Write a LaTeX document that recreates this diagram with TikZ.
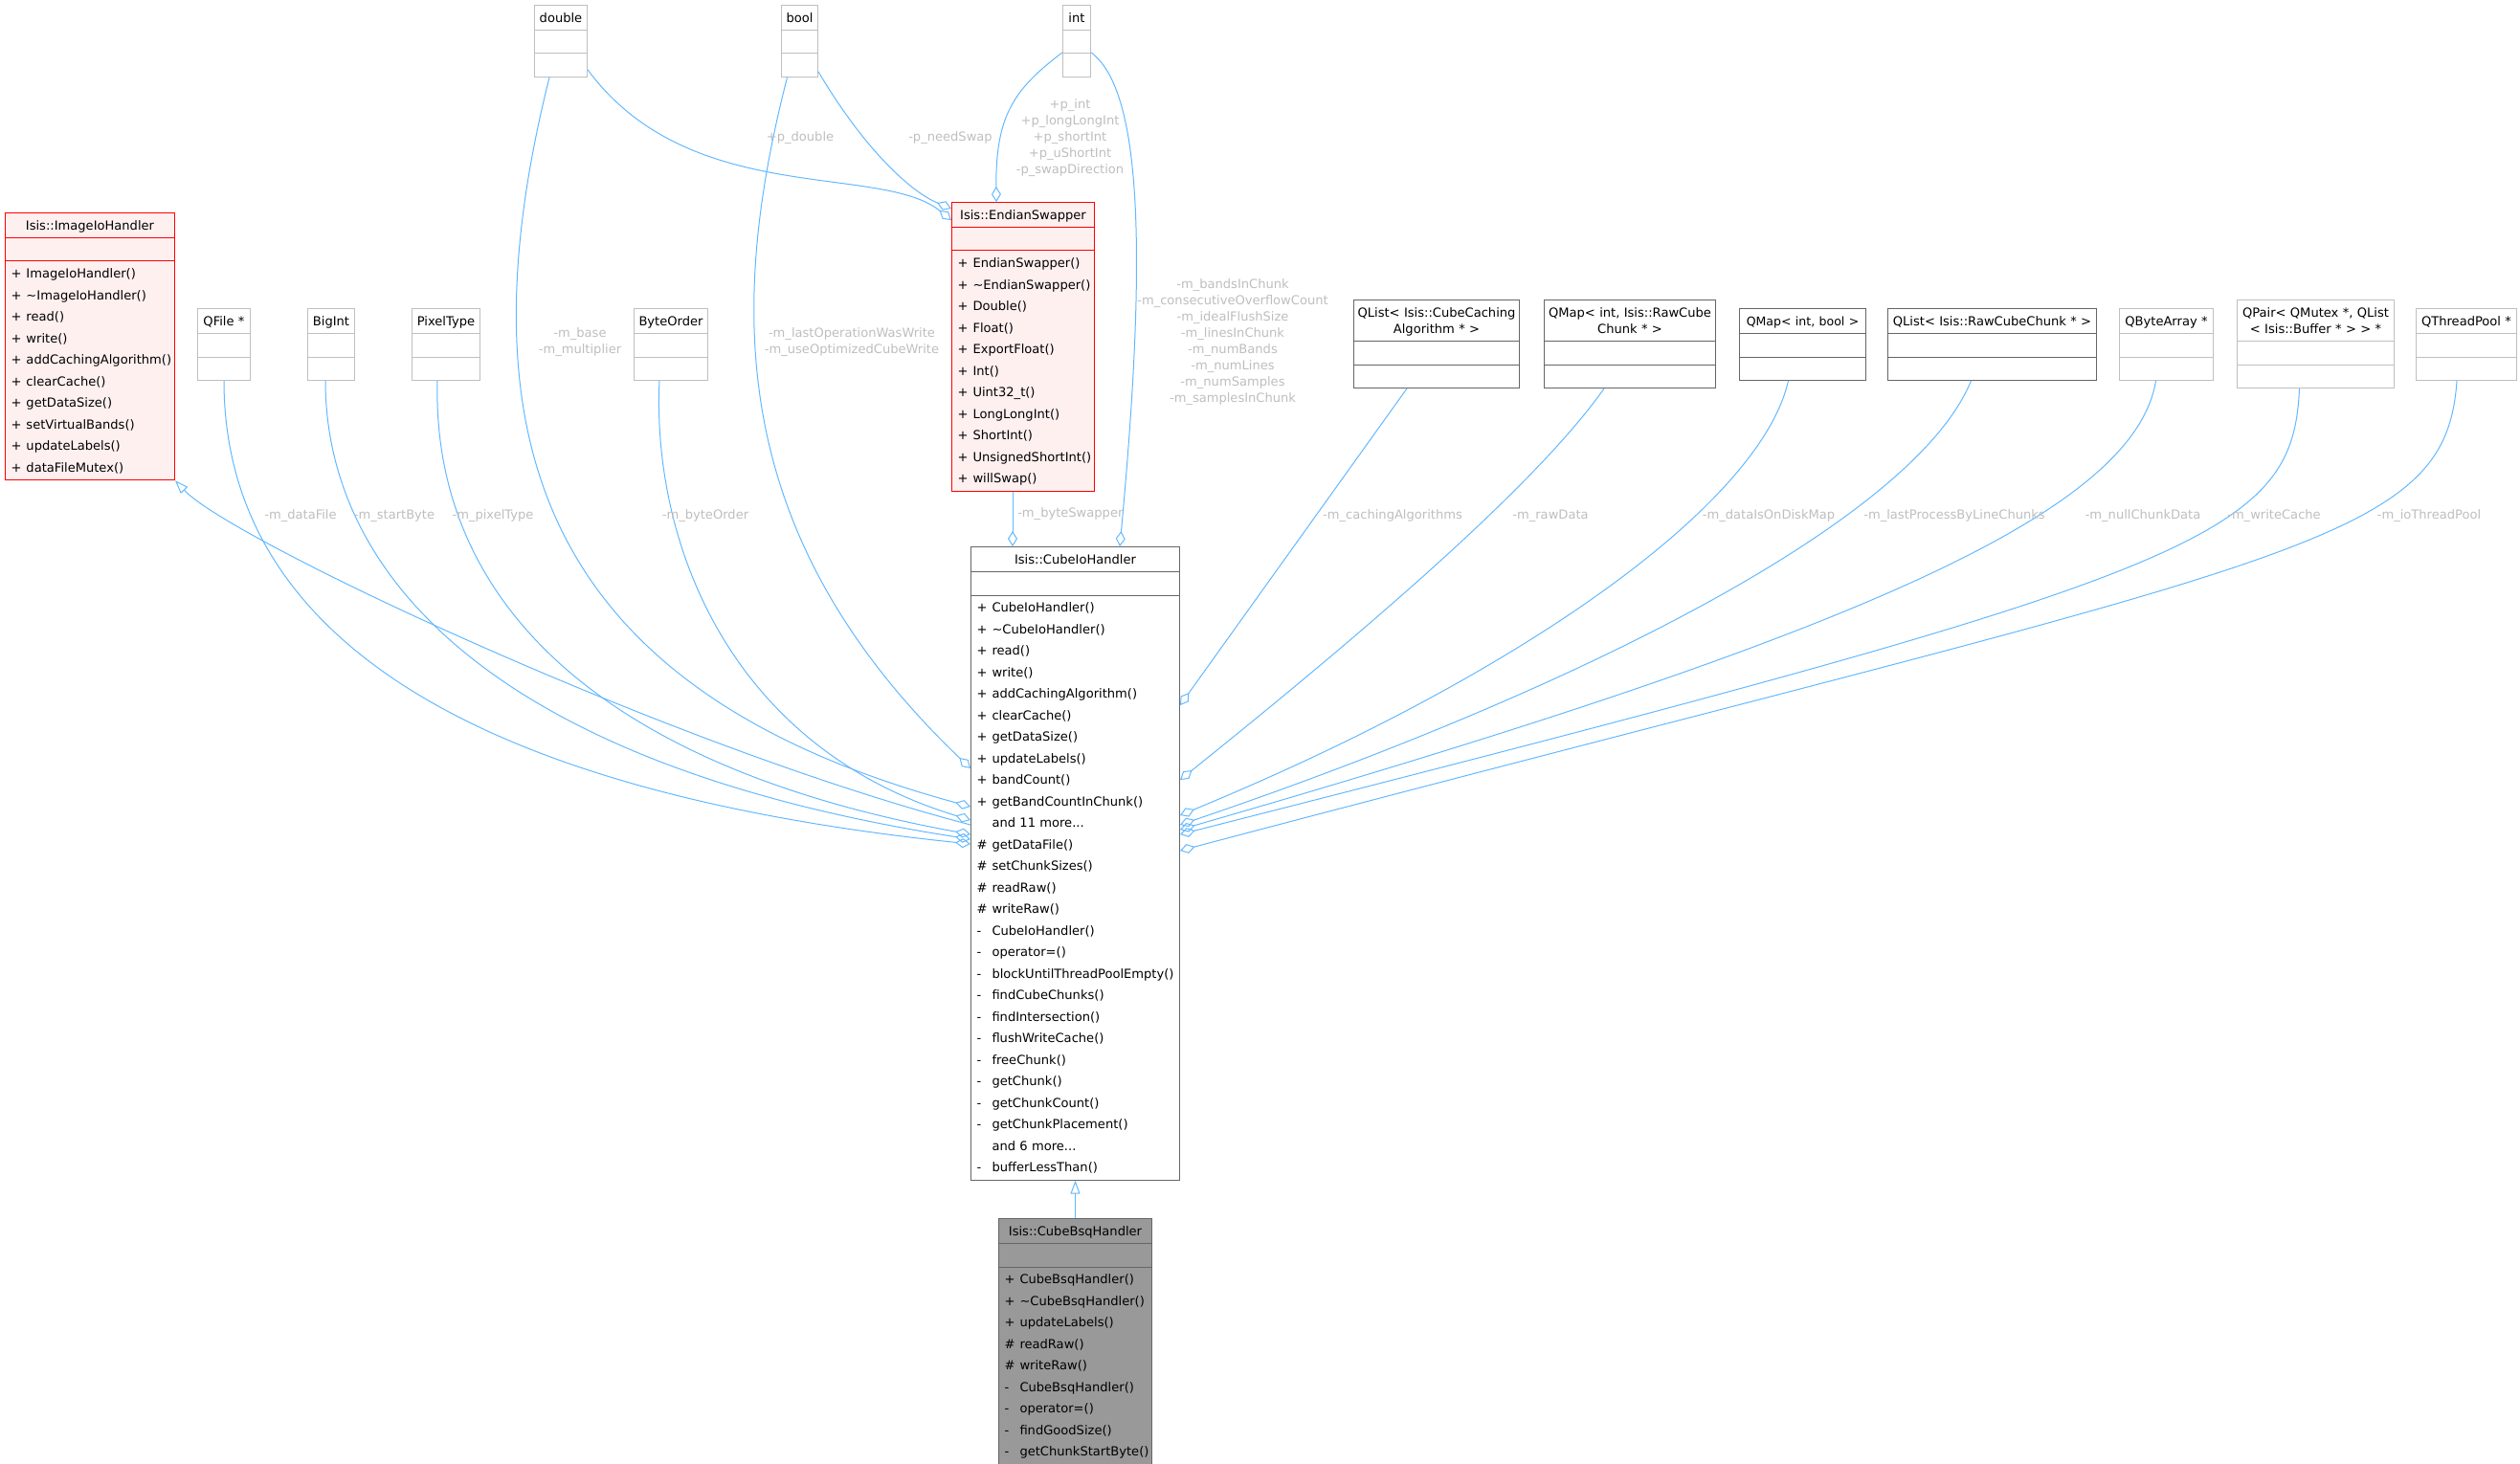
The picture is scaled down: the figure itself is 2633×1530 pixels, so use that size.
\documentclass[tikz,border=0pt]{standalone}
\usepackage{fontspec}
\setmainfont{DejaVu Sans}
\usetikzlibrary{positioning, arrows.meta, shapes.multipart, calc}
\definecolor{edgeblue}{HTML}{63B8FF}
\definecolor{lblgray}{HTML}{BEBEBE}
\definecolor{redline}{HTML}{FF0000}
\definecolor{redfill}{HTML}{FFF0F0}
\definecolor{extline}{HTML}{BFBFBF}
\definecolor{docline}{HTML}{666666}
\definecolor{selffill}{HTML}{999999}
\newcommand{\clsfont}{\fontsize{9.8}{16.875}\selectfont}
\newcommand{\lblfont}{\fontsize{9.8}{12.75}\selectfont}
\newcommand{\ctitle}[1]{\strut\makebox[\hsize]{#1}}
\newcommand{\pub}{\strut\makebox[12pt][l]{+}}
\newcommand{\prot}{\strut\makebox[12pt][l]{\#}}
\newcommand{\priv}{\strut\makebox[12pt][l]{-}}
\newcommand{\more}{\strut\makebox[12pt][l]{}}
\newcommand{\emptyrow}{\rule{0pt}{15.5pt}}
\tikzstyle{cls}=[rectangle split, rectangle split parts=3, draw, line width=0.75pt, inner xsep=4.5pt, inner ysep=1pt, font=\clsfont, align=left, anchor=north west]
\tikzstyle{redcls}=[cls, draw=redline, fill=redfill]
\tikzstyle{extcls}=[cls, draw=extline, fill=white]
\tikzstyle{doccls}=[cls, draw=docline, fill=white]
\tikzstyle{selfcls}=[cls, draw=docline, fill=selffill]
\tikzstyle{lbl}=[font=\lblfont, text=lblgray, align=center, inner sep=0pt]
\tikzstyle{agg}=[draw=edgeblue, line width=0.75pt, -{Diamond[open, length=12pt, width=7.5pt]}]
\tikzstyle{inh}=[draw=edgeblue, line width=0.75pt]

\begin{document}
\begin{tikzpicture}[x=0.75pt, y=-0.75pt, >=latex]
  \useasboundingbox (0,0) rectangle (2633,1530);

  % base class and helpers
  \node[redcls, text width=123.75pt] (ih) at (5,222) {\ctitle{Isis::ImageIoHandler}
    \nodepart{two}\emptyrow
    \nodepart{three}\pub ImageIoHandler()\\ \pub \textasciitilde ImageIoHandler()\\ \pub read()\\
    \pub write()\\ \pub addCachingAlgorithm()\\ \pub clearCache()\\ \pub getDataSize()\\
    \pub setVirtualBands()\\ \pub updateLabels()\\ \pub dataFileMutex()};
  \node[extcls, text width=32.25pt] (qfile) at (206,322) {\ctitle{QFile *}
    \nodepart{two}\emptyrow \nodepart{three}\emptyrow};
  \node[extcls, text width=27.75pt] (bigint) at (321,322) {\ctitle{BigInt}
    \nodepart{two}\emptyrow \nodepart{three}\emptyrow};
  \node[extcls, text width=44.25pt] (pixtype) at (430,322) {\ctitle{PixelType}
    \nodepart{two}\emptyrow \nodepart{three}\emptyrow};
  \node[extcls, text width=48.75pt] (byteord) at (662,322) {\ctitle{ByteOrder}
    \nodepart{two}\emptyrow \nodepart{three}\emptyrow};
  \node[extcls, text width=32.25pt] (dbl) at (558,5) {\ctitle{double}
    \nodepart{two}\emptyrow \nodepart{three}\emptyrow};
  \node[extcls, text width=19.5pt] (bool) at (816,5) {\ctitle{bool}
    \nodepart{two}\emptyrow \nodepart{three}\emptyrow};
  \node[extcls, text width=12.75pt] (int) at (1110,5) {\ctitle{int}
    \nodepart{two}\emptyrow \nodepart{three}\emptyrow};

  \node[redcls, text width=102.75pt] (es) at (994,211) {\ctitle{Isis::EndianSwapper}
    \nodepart{two}\emptyrow
    \nodepart{three}\pub EndianSwapper()\\ \pub \textasciitilde EndianSwapper()\\ \pub Double()\\
    \pub Float()\\ \pub ExportFloat()\\ \pub Int()\\ \pub Uint32\_t()\\ \pub LongLongInt()\\
    \pub ShortInt()\\ \pub UnsignedShortInt()\\ \pub willSwap()};

  \node[doccls, text width=154.5pt] (cih) at (1014,571) {\ctitle{Isis::CubeIoHandler}
    \nodepart{two}\emptyrow
    \nodepart{three}\pub CubeIoHandler()\\ \pub \textasciitilde CubeIoHandler()\\ \pub read()\\
    \pub write()\\ \pub addCachingAlgorithm()\\ \pub clearCache()\\ \pub getDataSize()\\
    \pub updateLabels()\\ \pub bandCount()\\ \pub getBandCountInChunk()\\ \more and 11 more...\\
    \prot getDataFile()\\ \prot setChunkSizes()\\ \prot readRaw()\\ \prot writeRaw()\\
    \priv CubeIoHandler()\\ \priv operator=()\\ \priv blockUntilThreadPoolEmpty()\\
    \priv findCubeChunks()\\ \priv findIntersection()\\ \priv flushWriteCache()\\
    \priv freeChunk()\\ \priv getChunk()\\ \priv getChunkCount()\\ \priv getChunkPlacement()\\
    \more and 6 more...\\ \priv bufferLessThan()};

  \node[selfcls, text width=111pt] (cbh) at (1043,1273) {\ctitle{Isis::CubeBsqHandler}
    \nodepart{two}\emptyrow
    \nodepart{three}\pub CubeBsqHandler()\\ \pub \textasciitilde CubeBsqHandler()\\ \pub updateLabels()\\
    \prot readRaw()\\ \prot writeRaw()\\ \priv CubeBsqHandler()\\ \priv operator=()\\
    \priv findGoodSize()\\ \priv getChunkStartByte()};

  % member types on the right
  \node[doccls, text width=120.75pt] (qlcc) at (1414,313) {\ctitle{QList< Isis::CubeCaching}\\[-4pt]\ctitle{Algorithm * >}
    \nodepart{two}\emptyrow \nodepart{three}\emptyrow};
  \node[doccls, text width=125.25pt] (qmrc) at (1613,313) {\ctitle{QMap< int, Isis::RawCube}\\[-4pt]\ctitle{Chunk * >}
    \nodepart{two}\emptyrow \nodepart{three}\emptyrow};
  \node[doccls, text width=90pt] (qmib) at (1817,322) {\ctitle{\fontsize{9.4}{16.875}\selectfont QMap< int, bool >}
    \nodepart{two}\emptyrow \nodepart{three}\emptyrow};
  \node[doccls, text width=154.5pt] (qlrc) at (1972,322) {\ctitle{QList< Isis::RawCubeChunk * >}
    \nodepart{two}\emptyrow \nodepart{three}\emptyrow};
  \node[extcls, text width=64.5pt] (qba) at (2214,322) {\ctitle{QByteArray *}
    \nodepart{two}\emptyrow \nodepart{three}\emptyrow};
  \node[extcls, text width=114pt] (qpair) at (2337,313) {\ctitle{QPair< QMutex *, QList}\\[-4pt]\ctitle{< Isis::Buffer * > > *}
    \nodepart{two}\emptyrow \nodepart{three}\emptyrow};
  \node[extcls, text width=69.75pt] (qtp) at (2524,322) {\ctitle{QThreadPool *}
    \nodepart{two}\emptyrow \nodepart{three}\emptyrow};

  % inheritance
  \draw[inh, {Triangle[open, length=10.5pt, width=7.5pt]}-] (ih.south east) .. controls +(58,62) and +(-314,-82) .. ($(cih.north west)+(0,291)$);
  \draw[inh, -{Triangle[open, length=10.5pt, width=7.5pt]}] (cbh.north) -- (cih.south);

  % usage on the left
  \draw[agg] (qfile.south) .. controls +(0,226) and +(-594,-62) .. ($(cih.north west)+(0,311)$);
  \draw[agg] ($(bigint.south)+(-6,0)$) .. controls +(0,206) and +(-494,-77) .. ($(cih.north west)+(0,306)$);
  \draw[agg] ($(pixtype.south)+(-9,0)$) .. controls +(-6,226) and +(-394,-72) .. ($(cih.north west)+(0,301)$);
  \draw[agg] ($(byteord.south)+(-12,0)$) .. controls +(-8,166) and +(-254,-77) .. ($(cih.north west)+(0,286)$);
  \draw[agg] ($(dbl.south)+(-12,0)$) .. controls +(-93,372) and +(-454,-123) .. ($(cih.north west)+(0,272)$);
  \draw[agg] ($(bool.south)+(-13,0)$) .. controls +(-62,242) and +(-254,-243) .. ($(cih.north west)+(0,232)$);

  % endian swapper
  \draw[agg] ($(dbl.south east)+(0,-8)$) .. controls +(107,145) and +(-74,-60) .. ($(es.north west)+(0,19)$);
  \draw[agg] ($(bool.south east)+(0,-6)$) .. controls +(46,78) and +(-44,-18) .. ($(es.north west)+(0,7)$);
  \draw[agg] ($(int.south west)+(0,-26)$) .. controls +(-50,38) and +(-1,-91) .. ($(es.north west)+(47,0)$);
  \draw[agg] ($(int.south east)+(0,-26)$) .. controls +(51,38) and +(30,-321) .. ($(cih.north west)+(156,0)$);
  \draw[agg] ($(es.south west)+(64,0)$) -- ($(cih.north west)+(44,0)$);

  % usage on the right
  \draw[agg] ($(qlcc.south)+(-31,0)$) -- ($(cih.north east)+(0,166)$);
  \draw[agg] ($(qmrc.south)+(-27,0)$) .. controls +(-75,107) and +(168,-135) .. ($(cih.north east)+(0,244)$);
  \draw[agg] ($(qmib.south)+(-15,0)$) .. controls +(-28,125) and +(368,-152) .. ($(cih.north east)+(0,281)$);
  \draw[agg] ($(qlrc.south)+(-22,0)$) .. controls +(-59,145) and +(418,-142) .. ($(cih.north east)+(0,291)$);
  \draw[agg] ($(qba.south)+(-11,0)$) .. controls +(-22,135) and +(718,-207) .. ($(cih.north east)+(0,296)$);
  \draw[agg] ($(qpair.south)+(-17,0)$) .. controls +(-7,157) and +(1068,-272) .. ($(cih.north east)+(0,301)$);
  \draw[agg] ($(qtp.south)+(-10,0)$) .. controls +(-12,175) and +(1168,-309) .. ($(cih.north east)+(0,318)$);

  % edge labels
  \node[lbl] (lfile) at (314,539) {-m\_dataFile};
  \node[lbl] (lstart) at (412,539) {-m\_startByte};
  \node[lbl] (lpix) at (515,539) {-m\_pixelType};
  \node[lbl] (lbase) at (606,358) {-m\_base\\-m\_multiplier};
  \node[lbl] (lorder) at (737,539) {-m\_byteOrder};
  \node[lbl] (lwrite) at (890,358) {-m\_lastOperationWasWrite\\-m\_useOptimizedCubeWrite};
  \node[lbl] (lpdbl) at (836,144) {+p\_double};
  \node[lbl] (lswap) at (993,144) {-p\_needSwap};
  \node[lbl] (lpint) at (1118,144) {+p\_int\\+p\_longLongInt\\+p\_shortInt\\+p\_uShortInt\\-p\_swapDirection};
  \node[lbl] (lchunk) at (1288,358) {-m\_bandsInChunk\\-m\_consecutiveOverflowCount\\-m\_idealFlushSize\\-m\_linesInChunk\\-m\_numBands\\-m\_numLines\\-m\_numSamples\\-m\_samplesInChunk};
  \node[lbl, anchor=west] (lswapper) at (1063,537) {-m\_byteSwapper};
  \node[lbl] (lcache) at (1455,539) {-m\_cachingAlgorithms};
  \node[lbl] (lraw) at (1620,539) {-m\_rawData};
  \node[lbl] (ldisk) at (1848,539) {-m\_dataIsOnDiskMap};
  \node[lbl] (lline) at (2042,539) {-m\_lastProcessByLineChunks};
  \node[lbl] (lnull) at (2239,539) {-m\_nullChunkData};
  \node[lbl] (lwcache) at (2376,539) {-m\_writeCache};
  \node[lbl] (lpool) at (2538,539) {-m\_ioThreadPool};
\end{tikzpicture}
\end{document}
